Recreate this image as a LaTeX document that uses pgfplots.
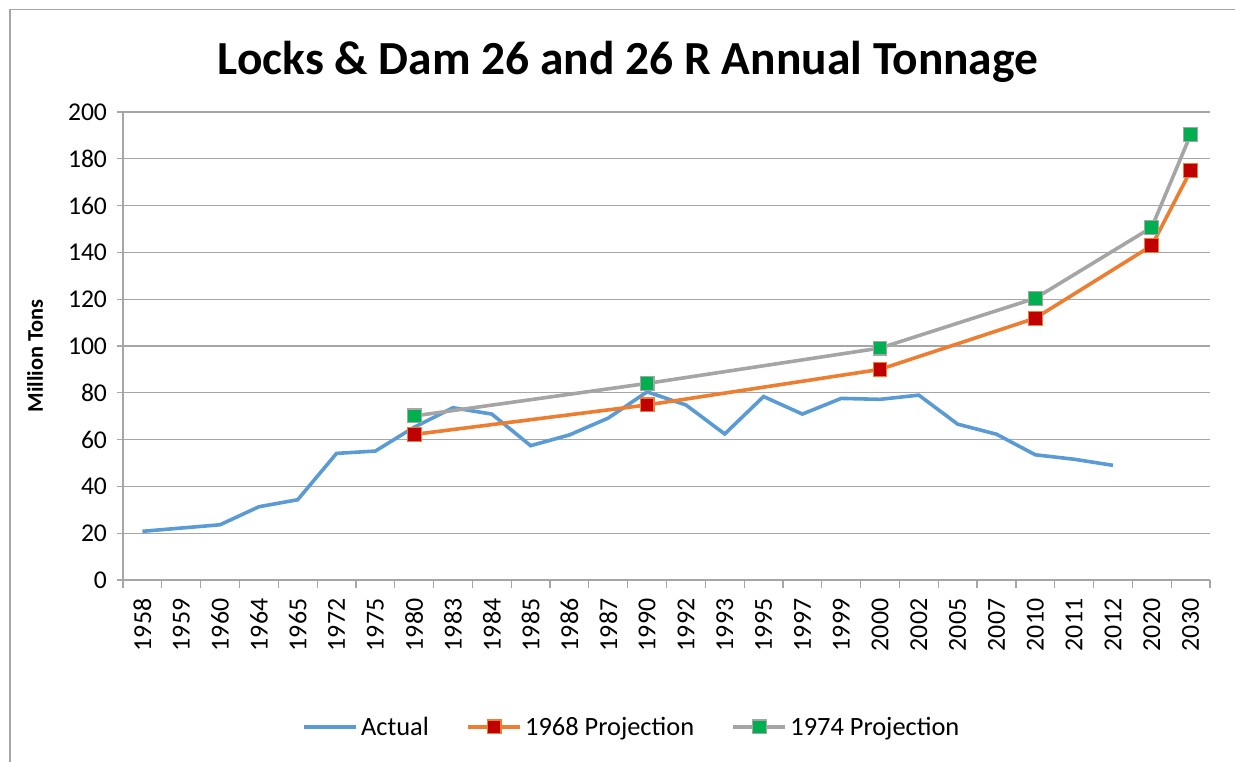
\documentclass[border=0pt]{standalone}
\usepackage{pgfplots}
\pgfplotsset{compat=1.18}
\usepackage{fontspec}
\setmainfont{Carlito}
\definecolor{cActual}{HTML}{5B9BD5}
\definecolor{cOrange}{HTML}{ED7D31}
\definecolor{cRed}{HTML}{C00000}
\definecolor{cGray}{HTML}{A5A5A5}
\definecolor{cGreen}{HTML}{00B050}
\definecolor{cGrid}{HTML}{A6A6A6}
\definecolor{cFrame}{HTML}{A6A6A6}
\begin{document}
\begin{tikzpicture}[x=0.75pt,y=0.75pt]
\path[use as bounding box] (0,0) rectangle (1235,762);
\draw[cFrame, line width=1.1pt] (10,0) -- (10,752.5) -- (1235,752.5);
\node[font={\fontsize{35.6}{40}\selectfont\bfseries}] at (628,700) {Locks \& Dam 26 and 26 R Annual Tonnage};
\node[font={\fontsize{16.8}{19}\selectfont\bfseries}, rotate=90] at (35,406) {Million Tons};
\begin{axis}[
  at={(92.25pt,136.5pt)}, anchor=south west,
  scale only axis, width=815.25pt, height=351pt,
  xmin=-0.5, xmax=27.5, ymin=0, ymax=200,
  ytick={0,20,...,200},
  xtick={0,...,27},
  xticklabels={1958,1959,1960,1964,1965,1972,1975,1980,1983,1984,1985,1986,1987,1990,1992,1993,1995,1997,1999,2000,2002,2005,2007,2010,2011,2012,2020,2030},
  minor xtick={-0.5,0.5,...,27.5},
  major x tick style={draw=none},
  minor x tick style={cGrid, line width=0.9pt},
  y tick style={cGrid, line width=0.9pt},
  tick align=outside,
  major tick length=4.5pt, minor tick length=6pt,
  axis x line*=bottom, axis y line*=left,
  axis line style={cGrid, line width=0.9pt, -},
  ymajorgrids, major grid style={cGrid, line width=0.9pt},
  /pgf/number format/assume math mode=true,
  yticklabel style={font={\fontsize{19.2}{22}\selectfont}, xshift=-4pt},
  xticklabel style={font={\fontsize{19.4}{22}\selectfont}, rotate=90, anchor=east, xshift=-6pt},
  legend columns=3,
  legend cell align=left,
  legend style={at={(0.4683,-0.314)}, anchor=center, draw=none, fill=none,
    font={\fontsize{19.8}{22}\selectfont},
    /tikz/every even column/.append style={column sep=26pt},
    /tikz/every odd column/.append style={column sep=0.5pt}},
  legend image code/.code={\draw[mark repeat=2,mark phase=2] plot coordinates {(0pt,0pt)(19.5pt,0pt)(39pt,0pt)};},
]
\addplot[cActual, line width=2.7pt, no markers] coordinates {
(0,20.8)(1,22.2)(2,23.6)(3,31.3)(4,34.3)(5,54.1)(6,55.1)(7,65.3)(8,73.6)(9,70.9)
(10,57.4)(11,62)(12,69.2)(13,80.4)(14,74.8)(15,62.4)(16,78.4)(17,70.9)(18,77.6)(19,77.2)
(20,79)(21,66.6)(22,62.3)(23,53.5)(24,51.6)(25,49)};
\addlegendentry{Actual}
\addplot[cOrange, line width=2.7pt, mark=square*, mark size=5.2pt, mark options={fill=cRed, draw=cOrange, line width=0.8pt}] coordinates {
(7,62.2)(13,74.8)(19,90)(23,111.9)(26,142.9)(27,174.9)};
\addlegendentry{1968 Projection}
\addplot[cGray, line width=2.7pt, mark=square*, mark size=5.2pt, mark options={fill=cGreen, draw=cGray, line width=0.8pt}] coordinates {
(7,70.1)(13,84)(19,99.1)(23,120.4)(26,150.7)(27,190.3)};
\addlegendentry{1974 Projection}
\end{axis}
\end{tikzpicture}
\end{document}
